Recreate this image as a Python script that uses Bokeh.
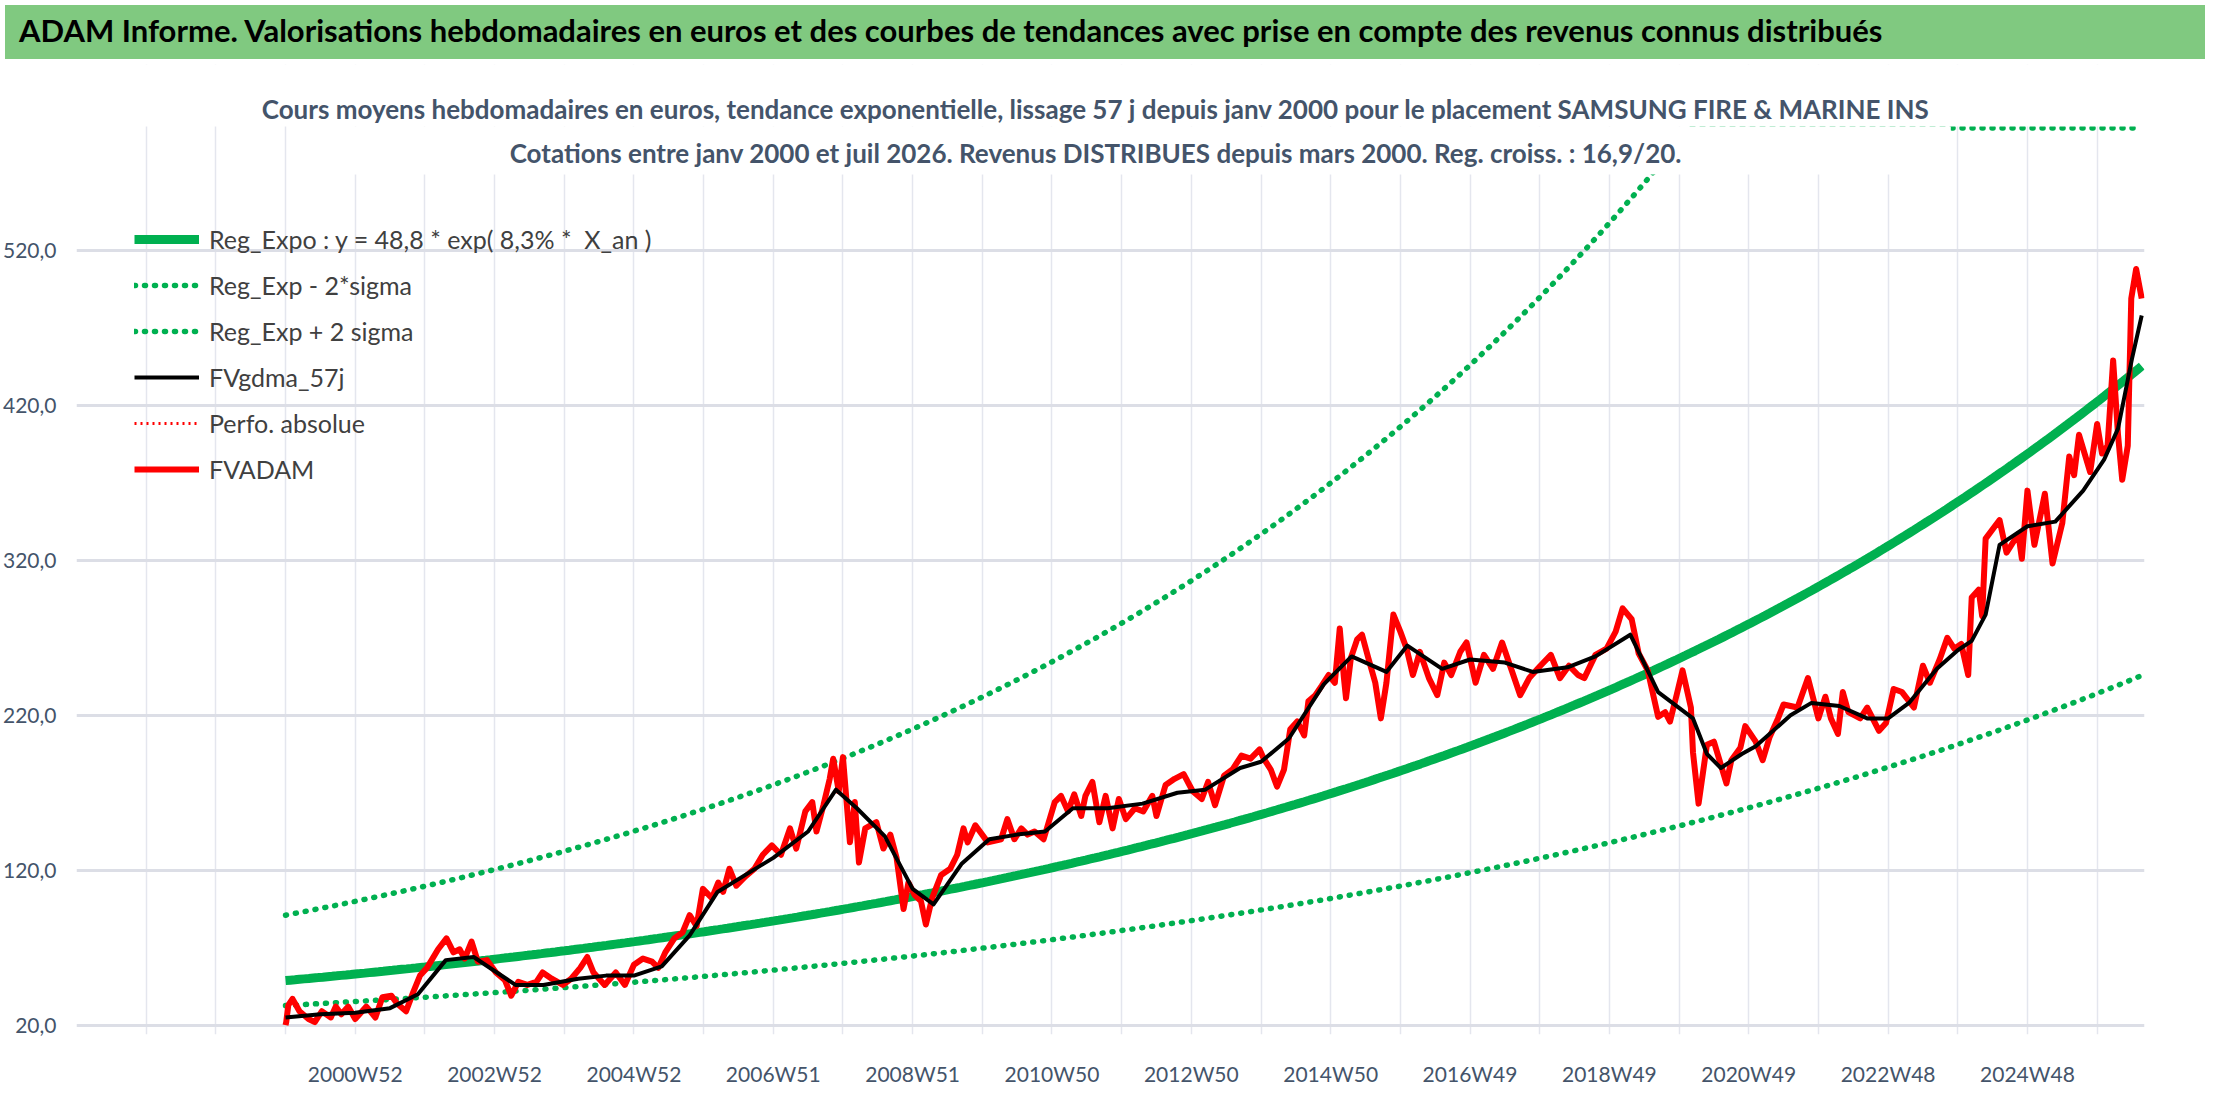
import numpy as np
from bokeh.plotting import figure
from bokeh.models import (Div, FixedTicker, Label, BoxAnnotation, Legend, LegendItem)
from bokeh.layouts import column
from bokeh.embed import file_html
from bokeh.resources import INLINE

FONT = "Lato"

# ---- data ----
adam_x = [2000.0, 2000.01, 2000.04, 2000.1, 2000.2, 2000.33, 2000.42, 2000.52, 2000.65, 2000.72, 2000.8, 2000.9,
          2001.0, 2001.16, 2001.29, 2001.39, 2001.52, 2001.6, 2001.73, 2001.83, 2001.93, 2002.03, 2002.19, 2002.31,
          2002.41, 2002.5, 2002.57, 2002.67, 2002.76, 2002.89, 2003.02, 2003.15, 2003.24, 2003.34, 2003.47, 2003.6,
          2003.69, 2003.82, 2003.98, 2004.1, 2004.23, 2004.33, 2004.42, 2004.58, 2004.74, 2004.87, 2005.0, 2005.13,
          2005.26, 2005.35, 2005.45, 2005.58, 2005.7, 2005.8, 2005.9, 2005.99, 2006.12, 2006.21, 2006.28, 2006.37,
          2006.47, 2006.6, 2006.73, 2006.85, 2006.98, 2007.11, 2007.24, 2007.33, 2007.46, 2007.56, 2007.62, 2007.72,
          2007.81, 2007.86, 2007.94, 2008.0, 2008.1, 2008.17, 2008.23, 2008.32, 2008.48, 2008.58, 2008.68, 2008.77,
          2008.87, 2008.94, 2009.03, 2009.12, 2009.19, 2009.28, 2009.41, 2009.54, 2009.64, 2009.73, 2009.79, 2009.9,
          2010.08, 2010.27, 2010.36, 2010.46, 2010.56, 2010.65, 2010.75, 2010.88, 2011.04, 2011.13, 2011.23, 2011.32,
          2011.42, 2011.48, 2011.58, 2011.68, 2011.77, 2011.87, 2011.96, 2012.06, 2012.19, 2012.31, 2012.44, 2012.5,
          2012.63, 2012.76, 2012.89, 2013.02, 2013.15, 2013.24, 2013.34, 2013.47, 2013.59, 2013.72, 2013.85, 2013.98,
          2014.04, 2014.14, 2014.23, 2014.33, 2014.42, 2014.52, 2014.62, 2014.68, 2014.78, 2014.87, 2014.97, 2015.06,
          2015.13, 2015.19, 2015.22, 2015.29, 2015.38, 2015.45, 2015.54, 2015.64, 2015.72, 2015.8, 2015.9, 2016.0,
          2016.09, 2016.18, 2016.28, 2016.41, 2016.53, 2016.63, 2016.73, 2016.86, 2016.95, 2017.08, 2017.2, 2017.33,
          2017.46, 2017.59, 2017.72, 2017.85, 2018.01, 2018.16, 2018.29, 2018.42, 2018.55, 2018.64, 2018.8, 2018.96,
          2019.09, 2019.19, 2019.32, 2019.42, 2019.55, 2019.7, 2019.8, 2019.87, 2019.97, 2020.05, 2020.17, 2020.2,
          2020.28, 2020.4, 2020.5, 2020.58, 2020.68, 2020.75, 2020.88, 2020.95, 2021.1, 2021.2, 2021.3, 2021.42,
          2021.5, 2021.7, 2021.85, 2022.0, 2022.1, 2022.18, 2022.28, 2022.35, 2022.43, 2022.6, 2022.7, 2022.87,
          2022.97, 2023.08, 2023.2, 2023.37, 2023.5, 2023.6, 2023.74, 2023.85, 2023.95, 2024.05, 2024.15, 2024.2,
          2024.3, 2024.35, 2024.4, 2024.6, 2024.7, 2024.87, 2024.92, 2025.0, 2025.1, 2025.25, 2025.36, 2025.5,
          2025.6, 2025.67, 2025.74, 2025.9, 2026.0, 2026.07, 2026.15, 2026.23, 2026.3, 2026.36, 2026.44, 2026.49,
          2026.56, 2026.64]
adam_y = [20, 22, 33, 37, 29, 24, 22, 29, 25, 32, 27, 32,
          24, 32, 25, 38, 39, 34, 29, 41, 52, 57, 69, 76,
          67, 69, 63, 74, 61, 62, 54, 49, 39, 48, 46, 48,
          54, 50, 46, 50, 57, 64, 54, 46, 54, 46, 59, 63,
          61, 57, 67, 76, 80, 91, 84, 108, 102, 112, 106, 121,
          110, 116, 121, 130, 136, 130, 147, 134, 158, 164, 145, 162,
          179, 192, 171, 193, 138, 164, 125, 147, 151, 134, 143, 128,
          95, 112, 104, 100, 85, 102, 117, 121, 130, 147, 138, 149,
          138, 140, 153, 140, 147, 143, 145, 140, 164, 168, 158, 169,
          155, 168, 177, 151, 168, 147, 166, 153, 160, 158, 168, 155,
          175, 179, 182, 171, 166, 177, 162, 181, 185, 194, 192, 198,
          192, 185, 174, 185, 211, 216, 207, 229, 233, 239, 246, 241,
          276, 244, 231, 257, 269, 272, 257, 241, 218, 241, 285, 274,
          263, 246, 261, 244, 233, 254, 246, 261, 267, 241, 259, 250,
          267, 250, 233, 244, 252, 259, 244, 252, 246, 244, 259, 263,
          274, 289, 282, 260, 249, 219, 222, 216, 234, 249, 225, 196,
          163, 201, 203, 191, 176, 191, 199, 213, 203, 191, 206, 218,
          227, 225, 244, 218, 232, 218, 208, 235, 222, 218, 225, 210,
          215, 237, 235, 225, 252, 241, 256, 270, 263, 266, 246, 296,
          301, 284, 334, 346, 325, 337, 321, 365, 330, 363, 318, 344,
          387, 375, 401, 377, 408, 389, 394, 449, 401, 372, 394, 489,
          508, 489, 494]

gdma_x = [2000.0, 2000.5, 2001.0, 2001.5, 2001.9, 2002.3, 2002.7, 2003.0, 2003.3, 2003.7, 2004.2, 2004.6, 2005.0,
          2005.4, 2005.8, 2006.2, 2006.6, 2007.0, 2007.5, 2007.9, 2008.2, 2008.6, 2009.0, 2009.3, 2009.7, 2010.1,
          2010.5, 2010.9, 2011.3, 2011.8, 2012.3, 2012.8, 2013.2, 2013.7, 2014.0, 2014.4, 2014.9, 2015.3, 2015.8,
          2016.1, 2016.6, 2017.0, 2017.5, 2017.9, 2018.4, 2018.8, 2019.3, 2019.7, 2020.2, 2020.4, 2020.6, 2020.9,
          2021.1, 2021.6, 2021.9, 2022.3, 2022.7, 2023.0, 2023.3, 2023.7, 2024.0, 2024.2, 2024.4, 2024.6, 2025.0,
          2025.4, 2025.8, 2026.1, 2026.3, 2026.5, 2026.64]
gdma_y = [25, 27, 28, 31, 40, 62, 64, 55, 46, 46, 50, 52, 52,
          58, 78, 106, 117, 128, 145, 172, 160, 142, 108, 98, 124, 140,
          143, 145, 160, 160, 163, 170, 172, 186, 190, 205, 240, 258, 248,
          265, 250, 256, 254, 248, 251, 258, 272, 235, 218, 195, 186, 195,
          200, 220, 228, 226, 218, 218, 228, 250, 262, 268, 285, 330, 342,
          345, 365, 385, 405, 450, 478]

reg_a, reg_b = 48.8, 0.083          # Reg_Expo : y = 48,8 * exp(8,3% * X_an)
low_a, low_b = 32.7, 0.0757         # Reg_Exp - 2*sigma
up_a, up_b = 91.0, 0.0935           # Reg_Exp + 2 sigma

x_tick_pos = [2001, 2003, 2005, 2007, 2009, 2011, 2013, 2015, 2017, 2019, 2021, 2023, 2025]
x_tick_lab = ["2000W52", "2002W52", "2004W52", "2006W51", "2008W51", "2010W50", "2012W50",
              "2014W50", "2016W49", "2018W49", "2020W49", "2022W48", "2024W48"]
y_ticks = [20, 120, 220, 320, 420, 520]

# ---- trend curves ----
t = np.linspace(2000.0, 2026.64, 400)
reg = reg_a * np.exp(reg_b * (t - 2000))
low = low_a * np.exp(low_b * (t - 2000))
up = np.minimum(up_a * np.exp(up_b * (t - 2000)), 599)

title_div = Div(text="ADAM Informe. Valorisations hebdomadaires en euros et des courbes de tendances avec prise en compte des revenus connus distribués",
                width=2200, height=54,
                styles={"background-color": "#80c980", "font-family": FONT, "font-weight": "bold",
                        "font-size": "31px", "color": "#000", "line-height": "50px",
                        "padding-left": "14px", "box-sizing": "border-box", "width": "2200px",
                        "height": "50px", "white-space": "nowrap", "overflow": "hidden"})

p = figure(width=2200, height=1036, output_backend="svg", toolbar_location=None,
           x_range=(1997.0, 2026.68), y_range=(14, 640),
           min_border_left=75, min_border_right=56, min_border_top=0, min_border_bottom=66)
p.outline_line_color = None
p.background_fill_color = "white"

p.xaxis.ticker = FixedTicker(ticks=x_tick_pos)
p.xaxis.major_label_overrides = {k: v for k, v in zip(x_tick_pos, x_tick_lab)}
p.yaxis.ticker = FixedTicker(ticks=y_ticks)
p.yaxis.major_label_overrides = {k: f"{k},0" for k in y_ticks}
for ax in (p.xaxis[0], p.yaxis[0]):
    ax.axis_line_color = None
    ax.major_tick_line_color = None
    ax.minor_tick_line_color = None
    ax.major_label_text_font = FONT
    ax.major_label_text_font_size = "21px"
    ax.major_label_text_color = "#44546a"
p.xaxis.major_label_standoff = 20
p.yaxis.major_label_standoff = 14

p.xgrid.ticker = FixedTicker(ticks=list(range(1997, 2027)))
p.xgrid.grid_line_color = "#e4e6ee"
p.xgrid.grid_line_width = 1.5
p.ygrid.ticker = FixedTicker(ticks=y_ticks)
p.ygrid.grid_line_color = "#dcdee6"
p.ygrid.grid_line_width = 3

r_up = p.line(t, up, line_color="#00b050", line_width=5.5, line_dash="1 9", line_cap="round")
r_low = p.line(t, low, line_color="#00b050", line_width=5.5, line_dash="1 9", line_cap="round")
r_reg = p.line(t, reg, line_color="#00b050", line_width=9)
r_perf = p.line(x=[np.nan], y=[np.nan], line_color="#ff0000", line_width=3, line_dash="2 4")
r_adam = p.line(adam_x, adam_y, line_color="#ff0000", line_width=6, line_join="round")
r_gdma = p.line(gdma_x, gdma_y, line_color="#000000", line_width=4, line_join="round")

p.add_layout(BoxAnnotation(bottom=600, fill_color="white", fill_alpha=1.0, line_color=None))
p.add_layout(BoxAnnotation(left=2000.4, right=2023.9, bottom=569, top=600,
                           fill_color="white", fill_alpha=1.0, line_color=None))

for txt, yv in [("Cours moyens hebdomadaires en euros, tendance exponentielle, lissage 57 j depuis janv 2000 pour le placement SAMSUNG FIRE & MARINE INS", 611),
                ("Cotations entre janv 2000 et juil 2026. Revenus DISTRIBUES depuis mars 2000. Reg. croiss. : 16,9/20.", 583)]:
    p.add_layout(Label(x=2011.63, y=yv, text=txt, text_align="center", text_baseline="middle",
                       text_font=FONT, text_font_style="bold", text_font_size="26px",
                       text_color="#44546a"))

legend = Legend(items=[
    LegendItem(label="Reg_Expo : y = 48,8 * exp( 8,3% *  X_an )", renderers=[r_reg]),
    LegendItem(label="Reg_Exp - 2*sigma", renderers=[r_low]),
    LegendItem(label="Reg_Exp + 2 sigma", renderers=[r_up]),
    LegendItem(label="FVgdma_57j", renderers=[r_gdma]),
    LegendItem(label="Perfo. absolue", renderers=[r_perf]),
    LegendItem(label="FVADAM", renderers=[r_adam]),
], location=(58, 545))
legend.background_fill_alpha = 0
legend.border_line_color = None
legend.label_text_font = FONT
legend.label_text_font_size = "25px"
legend.label_text_color = "#404040"
legend.glyph_width = 65
legend.glyph_height = 40
legend.label_height = 40
legend.spacing = 6
legend.padding = 0
legend.margin = 0
legend.label_standoff = 10
p.add_layout(legend)

layout = column(title_div, p, spacing=0)
open("out.html", "w").write(file_html(layout, INLINE))
